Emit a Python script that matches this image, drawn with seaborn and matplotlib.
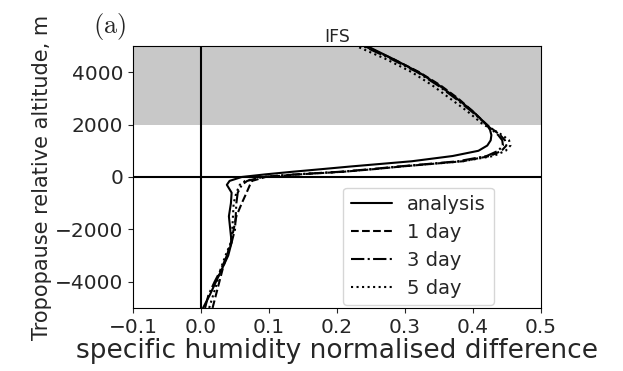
import numpy as np
import pandas as pd
import matplotlib
matplotlib.use("Agg")
import matplotlib.pyplot as plt
import seaborn as sns

sns.set_style("ticks")
plt.rcParams['font.family'] = ['DejaVu Sans']
plt.rcParams['mathtext.fontset'] = 'cm'

# tropopause relative altitude (m)
altitude = [-5000, -4500, -4000, -3500, -3000, -2500, -2000, -1500, -1000, -600, -300, -150,
            0, 100, 200, 300, 400, 500, 600, 800, 1000, 1200, 1400, 1600, 1800, 2000,
            2500, 3000, 3500, 4000, 4500, 5000]

analysis = [0.003, 0.013, 0.022, 0.031, 0.040, 0.045, 0.043, 0.041, 0.044, 0.045, 0.038, 0.042,
            0.060, 0.095, 0.135, 0.178, 0.220, 0.265, 0.310, 0.370, 0.408, 0.421, 0.426, 0.427, 0.425, 0.420,
            0.400, 0.376, 0.350, 0.320, 0.283, 0.244]
day1 = [0.017, 0.022, 0.027, 0.032, 0.038, 0.044, 0.048, 0.052, 0.060, 0.067, 0.072, 0.075,
        0.095, 0.145, 0.210, 0.255, 0.295, 0.340, 0.385, 0.425, 0.442, 0.449, 0.447, 0.440, 0.430, 0.420,
        0.400, 0.378, 0.352, 0.321, 0.283, 0.240]
day3 = [0.006, 0.011, 0.020, 0.030, 0.038, 0.045, 0.050, 0.051, 0.052, 0.054, 0.060, 0.068,
        0.090, 0.140, 0.205, 0.250, 0.290, 0.335, 0.378, 0.420, 0.437, 0.444, 0.443, 0.437, 0.428, 0.420,
        0.398, 0.374, 0.348, 0.318, 0.280, 0.238]
day5 = [0.012, 0.018, 0.024, 0.029, 0.036, 0.044, 0.046, 0.047, 0.048, 0.052, 0.057, 0.065,
        0.090, 0.140, 0.210, 0.255, 0.295, 0.340, 0.385, 0.430, 0.448, 0.455, 0.453, 0.443, 0.430, 0.415,
        0.392, 0.366, 0.340, 0.310, 0.272, 0.228]

series = {'analysis': (analysis, '-'), '1 day': (day1, '--'),
          '3 day': (day3, '-.'), '5 day': (day5, ':')}

fig = plt.figure(figsize=(6.23, 3.71), dpi=100)
ax = fig.add_axes([0.2135, 0.170, 0.6549, 0.706])

ax.axhspan(2000, 5000, color='#c8c8c8', lw=0, zorder=0)
ax.axvline(0, color='k', lw=1.5, zorder=1)
ax.axhline(0, color='k', lw=1.5, zorder=1)

for name, (vals, ls) in series.items():
    df = pd.DataFrame({'alt': altitude, 'q': vals})
    sns.lineplot(data=df, x='q', y='alt', sort=False, estimator=None, color='k',
                 lw=1.5, linestyle=ls, label=name, ax=ax, zorder=3)

ax.set_xlim(-0.1, 0.5)
ax.set_ylim(-5000, 5000)
ax.set_xticks([-0.1, 0.0, 0.1, 0.2, 0.3, 0.4, 0.5])
ax.set_yticks([-4000, -2000, 0, 2000, 4000])
ax.tick_params(labelsize=14.5)
ax.set_xlabel('specific humidity normalised difference', fontsize=19, labelpad=1)
ax.set_ylabel('Tropopause relative altitude, m', fontsize=15, labelpad=2)
ax.set_title('IFS', fontsize=12.5, pad=3)
for s in ax.spines.values():
    s.set_color('k')

ax.legend(loc='lower left', bbox_to_anchor=(0.515, 0.01), borderaxespad=0,
          fontsize=14, handlelength=2.1, labelspacing=0.45)
fig.text(110 / 623, 1 - 26 / 371, r'$\mathrm{(a)}$', fontsize=19, ha='center', va='center')

fig.savefig('out.png', dpi=100)
